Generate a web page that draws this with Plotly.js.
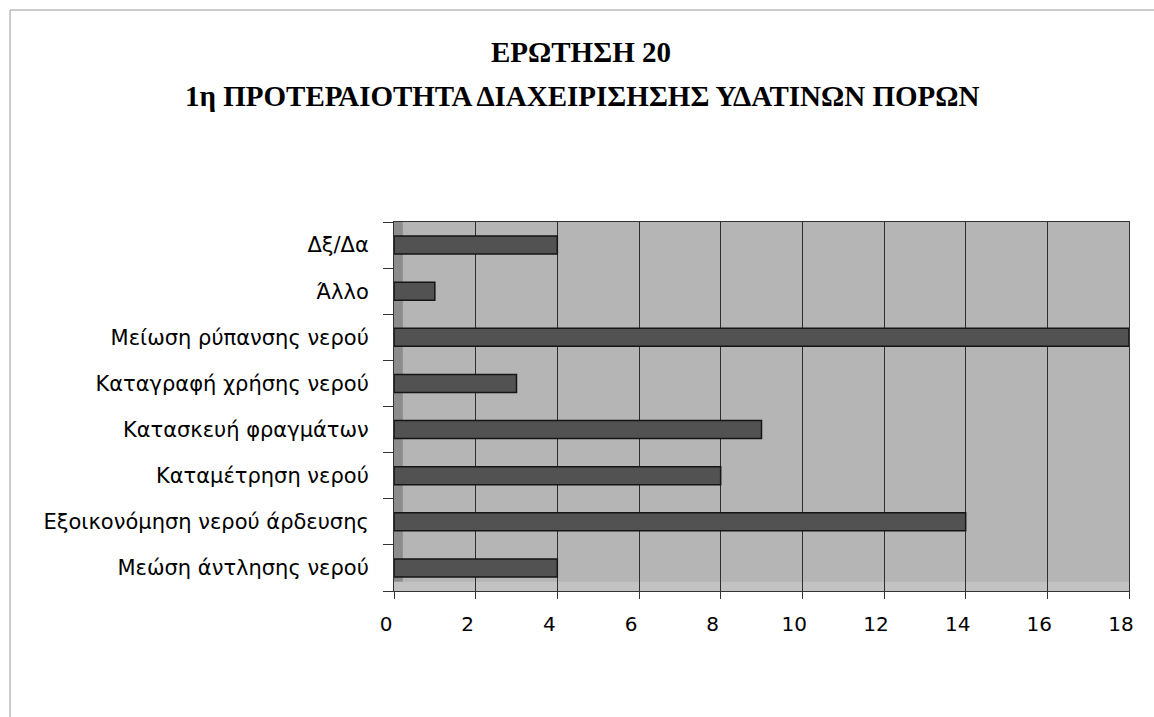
<!DOCTYPE html>
<html>
<head>
<meta charset="utf-8">
<script src="https://cdn.plot.ly/plotly-3.0.1.min.js"></script>
<style>body{margin:0;background:#fff}#chart{width:1154px;height:717px}</style>
</head>
<body>
<div id="chart"></div>
<script>
const categories = [
  "Μεώση άντλησης νερού",
  "Εξοικονόμηση νερού άρδευσης",
  "Καταμέτρηση νερού",
  "Κατασκευή φραγμάτων",
  "Καταγραφή χρήσης νερού",
  "Μείωση ρύπανσης νερού",
  "Άλλο",
  "Δξ/Δα"
];
const values = [4, 14, 8, 9, 3, 18, 1, 4];
const tickVals = [0, 2, 4, 6, 8, 10, 12, 14, 16, 18];
const titleLines = ["ΕΡΩΤΗΣΗ 20", "1η ΠΡΟΤΕΡΑΙΟΤΗΤΑ ΔΙΑΧΕΙΡΙΣΗΣΗΣ ΥΔΑΤΙΝΩΝ ΠΟΡΩΝ"];

const trace = {
  type: "bar",
  orientation: "h",
  y: categories,
  x: values,
  width: 0.39,
  marker: {color: "#525252", line: {color: "#151515", width: 1.5}},
  hoverinfo: "x+y"
};

const titleFont = {family: "Liberation Serif, Times New Roman, serif", size: 29, color: "#000"};

const layout = {
  width: 1154, height: 717,
  paper_bgcolor: "#fff",
  plot_bgcolor: "#b5b5b5",
  margin: {l: 394, r: 25, t: 222, b: 126},
  showlegend: false,
  xaxis: {
    range: [0, 18],
    tickvals: tickVals,
    ticktext: tickVals.map(String),
    showgrid: true, gridcolor: "#2e2e2e", gridwidth: 1,
    zeroline: false,
    showline: true, linecolor: "#333", linewidth: 1, mirror: true,
    ticks: "outside", ticklen: 7, tickcolor: "#333",
    ticklabelstandoff: 8, ticklabelshift: -8,
    tickfont: {family: "DejaVu Sans, Arial, sans-serif", size: 20, color: "#000"},
    fixedrange: true
  },
  yaxis: {
    type: "category",
    categoryorder: "array", categoryarray: categories,
    showgrid: false, zeroline: false,
    showline: true, linecolor: "#333", linewidth: 1, mirror: true,
    ticks: "outside", tickson: "boundaries", ticklen: 10, tickcolor: "#333",
    ticklabelstandoff: 20,
    tickfont: {family: "DejaVu Sans, Arial, sans-serif", size: 21, color: "#000"},
    fixedrange: true
  },
  annotations: [
    {text: "<b>" + titleLines[0] + "</b>", xref: "paper", yref: "paper", x: 0.254, y: 1.461,
     xanchor: "center", yanchor: "middle", showarrow: false, font: titleFont},
    {text: "<b>" + titleLines[1] + "</b>", xref: "paper", yref: "paper", x: 0.256, y: 1.341,
     xanchor: "center", yanchor: "middle", showarrow: false, font: titleFont}
  ],
  shapes: [
    {type: "rect", xref: "paper", yref: "paper", x0: 0, x1: 0.012, y0: 0, y1: 1,
     fillcolor: "#8c8c8c", line: {width: 0}, layer: "below"},
    {type: "rect", xref: "paper", yref: "paper", x0: 0, x1: 1, y0: 0, y1: 0.025,
     fillcolor: "#c2c2c2", line: {width: 0}, layer: "below"},
    {type: "line", xref: "paper", yref: "paper", x0: -0.5224, x1: -0.5224, y0: -0.3415, y1: 1.5745,
     line: {color: "#999", width: 1}},
    {type: "line", xref: "paper", yref: "paper", x0: -0.5224, x1: 1.034, y0: 1.5745, y1: 1.5745,
     line: {color: "#999", width: 1}}
  ]
};

Plotly.newPlot("chart", [trace], layout, {displayModeBar: false, staticPlot: true});
</script>
</body>
</html>
